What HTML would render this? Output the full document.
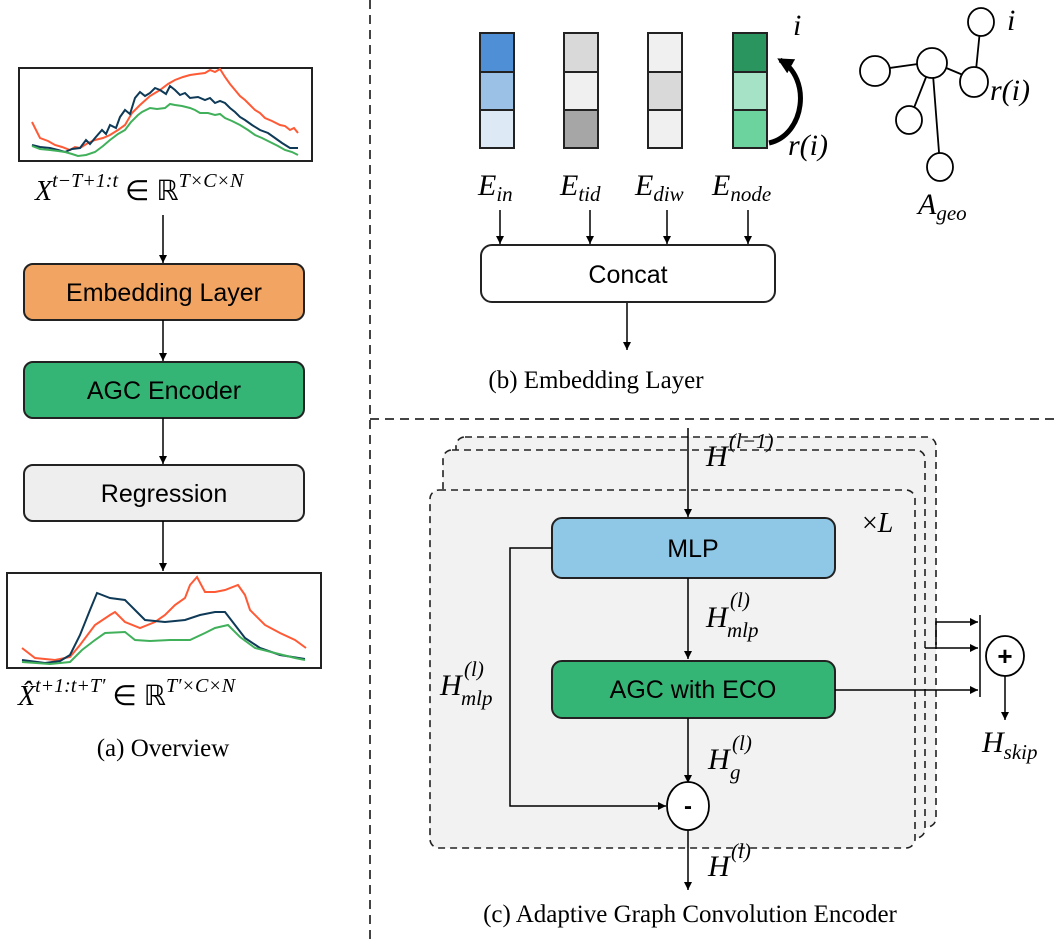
<!DOCTYPE html>
<html><head><meta charset="utf-8"><style>
html,body{margin:0;padding:0;background:#fff}
svg{display:block}
.m{font-family:"Liberation Serif",serif;font-style:italic}
.s{font-family:"Liberation Sans",sans-serif}
.c{font-family:"Liberation Serif",serif}
</style></head><body>
<svg width="1057" height="942" viewBox="0 0 1057 942" xmlns="http://www.w3.org/2000/svg">
<defs><marker id="a" viewBox="0 0 10 10" refX="10" refY="5" markerWidth="8" markerHeight="8" orient="auto" markerUnits="userSpaceOnUse"><path d="M0,0L10,5L0,10z" fill="#000"/></marker>
<marker id="b" viewBox="0 0 10 10" refX="8" refY="5" markerWidth="16" markerHeight="16" orient="auto" markerUnits="userSpaceOnUse"><path d="M0,0L10,5L0,10z" fill="#000"/></marker></defs>
<line x1="370" y1="0" x2="370" y2="942" stroke="#444" stroke-width="2" stroke-dasharray="9,6"/>
<line x1="370" y1="419" x2="1057" y2="419" stroke="#444" stroke-width="2" stroke-dasharray="9,6"/>

<!-- (a) -->
<rect x="19" y="68" width="293" height="93" fill="#fff" stroke="#222" stroke-width="2"/>
<polyline fill="none" stroke="#FF5A36" stroke-width="2" points="32,122 36,130 40,138 48,141 55,145 62,147 70,150 75,147 80,148 88,143 95,140 103,138 110,135 118,130 125,125 132,113 140,105 150,96 160,90 168,84 175,80 183,77 190,75 197,74 205,73 210,70 215,72 220,69 225,77 230,84 235,90 240,96 245,100 250,105 255,110 260,113 265,118 272,121 280,125 285,126 290,130 294,128 298,133"/>
<polyline fill="none" stroke="#0E3A57" stroke-width="2" points="32,145 40,147 50,148 58,150 65,152 72,149 80,148 86,140 90,144 95,138 102,130 106,134 110,125 116,128 120,117 125,110 130,114 135,98 140,92 145,96 150,93 155,88 160,90 166,94 170,86 175,90 180,95 185,93 190,98 198,97 205,100 210,98 215,103 220,101 225,103 230,108 235,112 240,117 245,120 252,125 260,130 268,133 275,138 282,143 290,148 298,148"/>
<polyline fill="none" stroke="#40B05A" stroke-width="2" points="32,146 40,149 50,150 58,151 65,152 72,154 78,156 86,155 95,152 103,146 110,140 118,134 125,130 131,122 138,115 142,112 150,108 157,109 165,108 170,104 175,105 182,106 190,108 195,110 200,113 208,113 215,115 220,114 225,118 232,121 240,125 248,130 255,135 262,138 270,142 278,146 285,150 292,152 298,155"/>
<text x="35" y="200" class="m" font-size="28">X<tspan font-size="20" dy="-13">t−T+1:t</tspan><tspan font-style="normal" dy="13"> ∈ ℝ</tspan><tspan font-size="20" dy="-13">T×C×N</tspan></text>
<line x1="163" y1="215" x2="163" y2="263" stroke="#000" stroke-width="1.5" marker-end="url(#a)"/>
<rect x="24" y="264" width="280" height="56" rx="9" fill="#F2A462" stroke="#222" stroke-width="2"/>
<text x="164" y="301" text-anchor="middle" class="s" font-size="25">Embedding Layer</text>
<line x1="163" y1="320" x2="163" y2="361" stroke="#000" stroke-width="1.5" marker-end="url(#a)"/>
<rect x="24" y="362" width="280" height="56" rx="9" fill="#35B575" stroke="#222" stroke-width="2"/>
<text x="164" y="399" text-anchor="middle" class="s" font-size="25">AGC Encoder</text>
<line x1="163" y1="418" x2="163" y2="464" stroke="#000" stroke-width="1.5" marker-end="url(#a)"/>
<rect x="24" y="465" width="280" height="56" rx="9" fill="#EEEEEE" stroke="#222" stroke-width="2"/>
<text x="164" y="502" text-anchor="middle" class="s" font-size="25">Regression</text>
<line x1="163" y1="521" x2="163" y2="571" stroke="#000" stroke-width="1.5" marker-end="url(#a)"/>
<rect x="7" y="573" width="314" height="95" fill="#fff" stroke="#222" stroke-width="2"/>
<polyline fill="none" stroke="#FF5A36" stroke-width="2" points="22,648 35,658 55,660 70,657 80,645 95,625 110,615 115,612 125,622 140,628 155,622 165,615 175,605 185,598 190,585 197,577 205,592 215,592 225,590 238,585 245,595 250,610 265,625 280,633 295,640 306,648"/>
<polyline fill="none" stroke="#0E3A57" stroke-width="2" points="22,660 45,663 60,661 70,655 80,635 90,610 97,593 110,598 125,600 135,610 145,620 165,622 185,620 200,615 215,612 225,612 235,625 245,638 260,648 280,655 305,659"/>
<polyline fill="none" stroke="#40B05A" stroke-width="2" points="22,662 50,664 70,662 82,650 95,640 105,633 125,632 135,640 150,641 170,640 190,640 205,633 215,628 228,625 240,637 255,648 275,653 295,658 305,660"/>
<text x="18" y="705" class="m" font-size="28">X̂<tspan font-size="20" dy="-13">t+1:t+T′</tspan><tspan font-style="normal" dy="13"> ∈ ℝ</tspan><tspan font-size="20" dy="-13">T′×C×N</tspan></text>
<text x="163" y="756" text-anchor="middle" class="c" font-size="25">(a) Overview</text>

<!-- (b) -->
<g stroke="#222" stroke-width="2">
<rect x="480" y="33" width="34" height="39" fill="#4F8FD6"/><rect x="480" y="72" width="34" height="38" fill="#9BC2E6"/><rect x="480" y="110" width="34" height="38" fill="#DDEAF6"/>
<rect x="564" y="33" width="34" height="39" fill="#D9D9D9"/><rect x="564" y="72" width="34" height="38" fill="#F0F0F0"/><rect x="564" y="110" width="34" height="38" fill="#A6A6A6"/>
<rect x="648" y="33" width="34" height="39" fill="#F0F0F0"/><rect x="648" y="72" width="34" height="38" fill="#D9D9D9"/><rect x="648" y="110" width="34" height="38" fill="#F0F0F0"/>
<rect x="733" y="33" width="34" height="39" fill="#2B9560"/><rect x="733" y="72" width="34" height="38" fill="#A6E3C6"/><rect x="733" y="110" width="34" height="38" fill="#6DD39E"/>
</g>
<path d="M769,143 C805,135 812,78 780,60" fill="none" stroke="#000" stroke-width="5" marker-end="url(#b)"/>
<text x="793" y="35" class="m" font-size="30">i</text>
<text x="788" y="155" class="m" font-size="30">r(i)</text>
<text x="478" y="195" class="m" font-size="30">E<tspan font-size="21" dy="6">in</tspan></text>
<text x="560" y="195" class="m" font-size="30">E<tspan font-size="21" dy="6">tid</tspan></text>
<text x="635" y="195" class="m" font-size="30">E<tspan font-size="21" dy="6">diw</tspan></text>
<text x="712" y="195" class="m" font-size="30">E<tspan font-size="21" dy="6">node</tspan></text>
<g stroke="#000" stroke-width="1.5">
<line x1="500" y1="210" x2="500" y2="244" marker-end="url(#a)"/>
<line x1="590" y1="210" x2="590" y2="244" marker-end="url(#a)"/>
<line x1="667" y1="210" x2="667" y2="244" marker-end="url(#a)"/>
<line x1="748" y1="210" x2="748" y2="244" marker-end="url(#a)"/>
<line x1="627" y1="302" x2="627" y2="350" marker-end="url(#a)"/>
</g>
<rect x="481" y="245" width="294" height="57" rx="11" fill="#fff" stroke="#222" stroke-width="2"/>
<text x="628" y="283" text-anchor="middle" class="s" font-size="25">Concat</text>
<text x="596" y="388" text-anchor="middle" class="c" font-size="25">(b) Embedding Layer</text>
<g stroke="#000" stroke-width="1.8" fill="#fff">
<line x1="875" y1="70" x2="932" y2="62"/><line x1="932" y1="62" x2="975" y2="80"/><line x1="975" y1="80" x2="980" y2="30"/>
<line x1="932" y1="62" x2="910" y2="118"/><line x1="932" y1="62" x2="940" y2="165"/>
<ellipse cx="875" cy="71" rx="15" ry="15"/><ellipse cx="932" cy="63" rx="15" ry="15"/><ellipse cx="974" cy="82" rx="14" ry="15"/>
<ellipse cx="981" cy="22" rx="13" ry="14"/><ellipse cx="909" cy="120" rx="13" ry="14"/><ellipse cx="940" cy="167" rx="13" ry="14"/>
</g>
<text x="1007" y="30" class="m" font-size="30">i</text>
<text x="990" y="100" class="m" font-size="30">r(i)</text>
<text x="918" y="214" class="m" font-size="30">A<tspan font-size="21" dy="6">geo</tspan></text>

<!-- (c) -->
<g fill="#F2F2F2" stroke="#222" stroke-width="1.6" stroke-dasharray="7,5">
<rect x="456" y="437" width="480" height="390" rx="9"/>
<rect x="443" y="450" width="482" height="388" rx="9"/>
<rect x="430" y="490" width="485" height="358" rx="9"/>
</g>
<line x1="688" y1="428" x2="688" y2="517" stroke="#000" stroke-width="1.5" marker-end="url(#a)"/>
<text x="706" y="466" class="m" font-size="30">H</text><text x="729" y="448" class="m" font-size="21">(l−1)</text>
<text x="862" y="532" class="m" font-size="28"><tspan font-style="normal">×</tspan>L</text>
<rect x="552" y="518" width="283" height="60" rx="10" fill="#8FC8E6" stroke="#222" stroke-width="2"/>
<text x="693" y="557" text-anchor="middle" class="s" font-size="25">MLP</text>
<line x1="688" y1="578" x2="688" y2="659" stroke="#000" stroke-width="1.5" marker-end="url(#a)"/>
<text x="706" y="627" class="m" font-size="30">H</text><text x="730" y="607" class="m" font-size="21">(l)</text><text x="727" y="637" class="m" font-size="21">mlp</text>
<rect x="552" y="661" width="283" height="57" rx="10" fill="#35B575" stroke="#222" stroke-width="2"/>
<text x="693" y="698" text-anchor="middle" class="s" font-size="25">AGC with ECO</text>
<line x1="688" y1="718" x2="688" y2="783" stroke="#000" stroke-width="1.5" marker-end="url(#a)"/>
<text x="708" y="769" class="m" font-size="30">H</text><text x="732" y="750" class="m" font-size="21">(l)</text><text x="730" y="779" class="m" font-size="21">g</text>
<polyline points="552,548 510,548 510,806 666,806" fill="none" stroke="#000" stroke-width="1.5" marker-end="url(#a)"/>
<text x="440" y="695" class="m" font-size="30">H</text><text x="464" y="676" class="m" font-size="21">(l)</text><text x="461" y="705" class="m" font-size="21">mlp</text>
<ellipse cx="688" cy="806" rx="21" ry="24" fill="#fff" stroke="#000" stroke-width="1.8"/>
<text x="688" y="814" text-anchor="middle" class="s" font-size="24" font-weight="bold">-</text>
<line x1="688" y1="830" x2="688" y2="890" stroke="#000" stroke-width="1.5" marker-end="url(#a)"/>
<text x="708" y="876" class="m" font-size="30">H</text><text x="731" y="858" class="m" font-size="21">(l)</text>
<g stroke="#000" stroke-width="1.5" fill="none">
<line x1="835" y1="690" x2="978" y2="690" marker-end="url(#a)"/>
<polyline points="936,645 936,622 978,622" marker-end="url(#a)"/>
<line x1="925" y1="648" x2="978" y2="648" marker-end="url(#a)"/>
<line x1="980" y1="615" x2="980" y2="697"/>
<line x1="1005" y1="675" x2="1005" y2="720" marker-end="url(#a)"/>
</g>
<ellipse cx="1005" cy="656" rx="19" ry="20" fill="#fff" stroke="#000" stroke-width="1.8"/>
<text x="1005" y="665" text-anchor="middle" class="s" font-size="26" font-weight="bold">+</text>
<text x="982" y="752" class="m" font-size="30">H<tspan font-size="21" dy="7">skip</tspan></text>
<text x="690" y="922" text-anchor="middle" class="c" font-size="25">(c) Adaptive Graph Convolution Encoder</text>
</svg>
</body></html>
